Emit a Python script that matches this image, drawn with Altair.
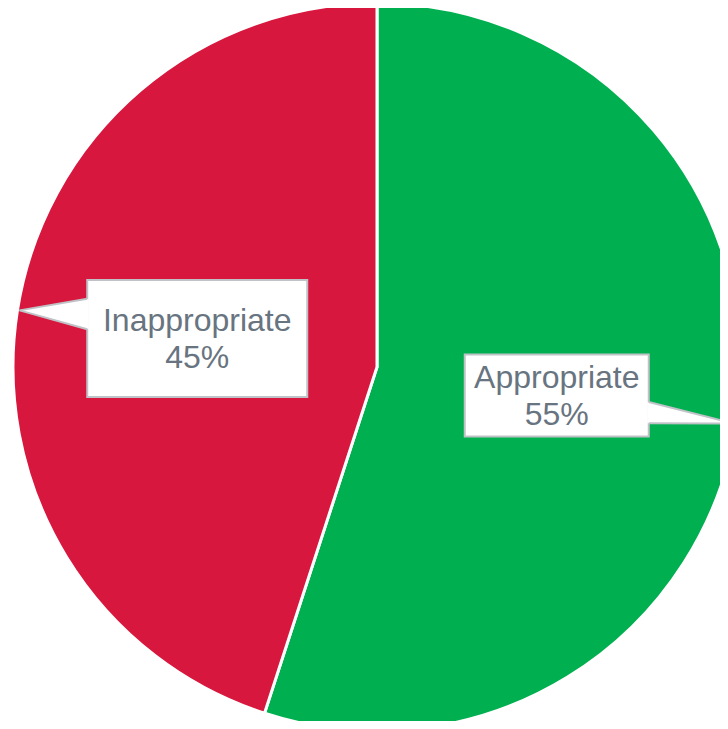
import math
import altair as alt
import pandas as pd

# ---- data ----
categories = ["Appropriate", "Inappropriate"]
values = [55, 45]
colors = ["#00B050", "#D7173D"]
label_lines = [["Appropriate", "55%"], ["Inappropriate", "45%"]]

# ---- style / geometry params ----
W, H = 712, 713
CX, CY = 369, 359          # pie centre inside the plot area
R = 364                    # pie radius
LABEL_R = 182              # radius of the callout box centres
TIP_R = 362                # radius of the callout pointer tips
box_w = [184, 220]
box_h = [82, 117]
BORDER = "#BFC3C7"
TEXT = "#687480"
FONT_SIZE = 32
LINE_H = 37

total = sum(values)
pie = pd.DataFrame({"cat": categories, "val": values, "ord": list(range(len(values)))})

boxes, tris, edges = [], [], []
cum = 0.0
for i, (c, v) in enumerate(zip(categories, values)):
    a0 = cum / total * 2 * math.pi
    cum += v
    a1 = cum / total * 2 * math.pi
    mid = (a0 + a1) / 2
    bx = CX + LABEL_R * math.sin(mid)
    by = CY - LABEL_R * math.cos(mid)
    tx = CX + TIP_R * math.sin(mid)
    ty = CY - TIP_R * math.cos(mid)
    w, h = box_w[i], box_h[i]
    boxes.append({"cat": c, "x": bx - w / 2, "x2": bx + w / 2, "y": by - h / 2, "y2": by + h / 2,
                  "cx": bx, "cy": by, "text": "\n".join(label_lines[i])})
    side = 1 if tx > bx else -1
    sgn = 1 if ty > by else -1
    base_x = bx + side * (w / 2 - 1.5)
    b1 = by + sgn * 0.08 * h
    b2 = by + sgn * 0.34 * h
    lo, hi = min(b1, b2), max(b1, b2)
    tris.append({"cat": c, "x": tx, "y": ty, "y2": ty})
    tris.append({"cat": c, "x": base_x, "y": lo, "y2": hi})
    edges.append({"cat": c, "x": bx + side * w / 2, "y": lo, "x2": tx, "y2": ty})
    edges.append({"cat": c, "x": bx + side * w / 2, "y": hi, "x2": tx, "y2": ty})

boxes = pd.DataFrame(boxes)
tris = pd.DataFrame(tris)
edges = pd.DataFrame(edges)

arc = alt.Chart(pie).mark_arc(radius=R, stroke="white", strokeWidth=3).encode(
    theta=alt.Theta("val:Q", stack=True),
    order=alt.Order("ord:Q"),
    color=alt.Color("cat:N", scale=alt.Scale(domain=categories, range=colors), legend=None),
    x=alt.value(CX),
    y=alt.value(CY),
)

rects = alt.Chart(boxes).mark_rect(fill="white", stroke=BORDER, strokeWidth=2).encode(
    x=alt.X("x:Q", scale=None), x2="x2:Q",
    y=alt.Y("y:Q", scale=None), y2="y2:Q",
)

pointer = alt.Chart(tris).mark_area(fill="white", opacity=1).encode(
    x=alt.X("x:Q", scale=None),
    y=alt.Y("y:Q", scale=None), y2="y2:Q",
    detail="cat:N",
)

pointer_edges = alt.Chart(edges).mark_rule(color=BORDER, strokeWidth=2).encode(
    x=alt.X("x:Q", scale=None), x2="x2:Q",
    y=alt.Y("y:Q", scale=None), y2="y2:Q",
)

texts = alt.Chart(boxes).mark_text(
    font="Liberation Sans", fontSize=FONT_SIZE, color=TEXT, lineBreak="\n",
    lineHeight=LINE_H, align="center", baseline="middle", dy=-LINE_H / 2 + 1,
).encode(
    x=alt.X("cx:Q", scale=None),
    y=alt.Y("cy:Q", scale=None),
    text="text:N",
)

chart = alt.layer(arc, rects, pointer, pointer_edges, texts).properties(
    width=W, height=H, padding=0, autosize=alt.AutoSizeParams(type="none"),
).configure_view(stroke=None)

chart.save("out.html", embed_options={"renderer": "svg", "actions": False})
